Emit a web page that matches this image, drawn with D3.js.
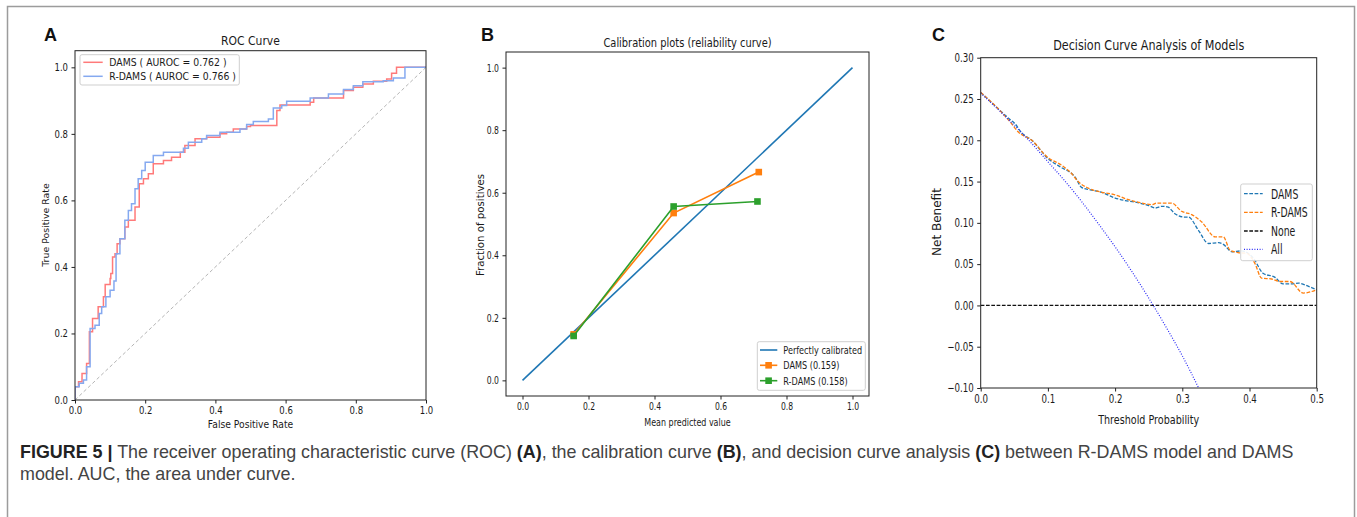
<!DOCTYPE html>
<html>
<head>
<meta charset="utf-8">
<script src="https://cdn.jsdelivr.net/npm/d3@7"></script>
<style>
  body { margin: 0; background: #fff; }
  svg text { font-family: "DejaVu Sans", sans-serif; }
</style>
</head>
<body>
<div class="figure"></div>
<script>
// ---- A: ROC curve (step points) ----
var rocDamsFpr = [0, 0, 0.01, 0.02, 0.033, 0.041, 0.041, 0.05, 0.066, 0.081, 0.086, 0.10, 0.102, 0.107, 0.114,
  0.12, 0.128, 0.142, 0.152, 0.171, 0.183, 0.195, 0.209, 0.223, 0.252, 0.275, 0.30, 0.313, 0.342, 0.375,
  0.413, 0.432, 0.451, 0.489, 0.50, 0.575, 0.584, 0.67, 0.68, 0.765, 0.793, 0.82, 0.85, 0.888, 0.902, 0.916, 1.0];
var rocDamsTpr = [0, 0.04, 0.055, 0.08, 0.11, 0.15, 0.205, 0.245, 0.28, 0.31, 0.347, 0.365, 0.38, 0.43, 0.44,
  0.47, 0.485, 0.52, 0.54, 0.58, 0.65, 0.665, 0.68, 0.71, 0.72, 0.73, 0.745, 0.765, 0.785, 0.79,
  0.80, 0.805, 0.815, 0.822, 0.825, 0.87, 0.887, 0.895, 0.908, 0.93, 0.94, 0.95, 0.958, 0.965, 0.982, 1.0, 1.0];
var rocRdamsFpr = [0, 0, 0.012, 0.024, 0.033, 0.043, 0.043, 0.057, 0.069, 0.076, 0.088, 0.10, 0.111, 0.117, 0.128,
  0.142, 0.152, 0.161, 0.171, 0.18, 0.19, 0.20, 0.223, 0.252, 0.309, 0.323, 0.361, 0.375, 0.413, 0.47,
  0.489, 0.508, 0.551, 0.565, 0.589, 0.603, 0.67, 0.722, 0.765, 0.793, 0.82, 0.878, 0.907, 0.94, 1.0];
var rocRdamsTpr = [0, 0.04, 0.05, 0.06, 0.10, 0.155, 0.215, 0.225, 0.26, 0.28, 0.31, 0.33, 0.358, 0.44, 0.485,
  0.54, 0.57, 0.59, 0.635, 0.665, 0.69, 0.715, 0.735, 0.745, 0.757, 0.775, 0.785, 0.795, 0.805, 0.815,
  0.828, 0.837, 0.845, 0.878, 0.885, 0.898, 0.908, 0.92, 0.933, 0.945, 0.957, 0.96, 0.968, 1.0, 1.0];
var rocLabels = ['DAMS ( AUROC = 0.762 )', 'R-DAMS ( AUROC = 0.766 )'];

// ---- B: calibration ----
var calDamsX = [0.155, 0.458, 0.716];
var calDamsY = [0.147, 0.535, 0.666];
var calRdamsX = [0.155, 0.458, 0.712];
var calRdamsY = [0.142, 0.556, 0.572];
var calLabels = ['Perfectly calibrated', 'DAMS (0.159)', 'R-DAMS (0.158)'];

// ---- C: decision curve ----
var dcaDamsT = [0, 0.025, 0.044, 0.05, 0.061, 0.076, 0.1, 0.12, 0.135, 0.14, 0.15, 0.163, 0.18, 0.2, 0.215,
  0.23, 0.25, 0.26, 0.27, 0.279, 0.289, 0.304, 0.309, 0.324, 0.339, 0.354, 0.361, 0.374, 0.388, 0.406,
  0.42, 0.438, 0.45, 0.463, 0.473, 0.488, 0.5];
var dcaDamsNb = [0.258, 0.239, 0.225, 0.221, 0.209, 0.200, 0.178, 0.167, 0.160, 0.156, 0.143, 0.140, 0.137, 0.130, 0.127,
  0.125, 0.121, 0.118, 0.120, 0.119, 0.111, 0.107, 0.107, 0.091, 0.075, 0.076, 0.074, 0.065, 0.066, 0.057,
  0.039, 0.034, 0.026, 0.026, 0.027, 0.023, 0.019];
var dcaRdamsT = [0, 0.025, 0.044, 0.056, 0.076, 0.1, 0.12, 0.135, 0.145, 0.16, 0.18, 0.2, 0.22, 0.24, 0.255,
  0.262, 0.284, 0.299, 0.314, 0.329, 0.349, 0.361, 0.371, 0.383, 0.396, 0.408, 0.418, 0.433, 0.445, 0.46,
  0.48, 0.5];
var dcaRdamsNb = [0.258, 0.239, 0.222, 0.210, 0.200, 0.179, 0.170, 0.160, 0.150, 0.142, 0.137, 0.134, 0.128, 0.124, 0.122,
  0.124, 0.124, 0.114, 0.110, 0.101, 0.083, 0.083, 0.067, 0.064, 0.063, 0.051, 0.033, 0.032, 0.029, 0.029,
  0.015, 0.019];
var dcaAllT = [0, 0.025, 0.05, 0.075, 0.1, 0.125, 0.15, 0.175, 0.2, 0.225, 0.25, 0.275, 0.3, 0.325];
var dcaAllNb = [0.257, 0.238, 0.218, 0.197, 0.174, 0.151, 0.126, 0.099, 0.071, 0.041, 0.009, -0.025, -0.061, -0.101];
var dcaNoneT = [0, 0.5];
var dcaNoneNb = [0, 0];
var dcaLabels = ['DAMS', 'R-DAMS', 'None', 'All'];

var unitTicks = [0, 0.2, 0.4, 0.6, 0.8, 1.0];
var dcaXTicks = [0, 0.1, 0.2, 0.3, 0.4, 0.5];
var dcaYTicks = [-0.10, -0.05, 0, 0.05, 0.10, 0.15, 0.20, 0.25, 0.30];

var width = 1357, height = 517;
var svg = d3.select('.figure').append('svg')
  .attr('width', width).attr('height', height);

// outer gray frame of the figure page
svg.append('rect')
  .attr('x', 7.5).attr('y', 6.5).attr('width', 1347).attr('height', 530)
  .attr('fill', 'none').attr('stroke', '#9c9c9c').attr('stroke-width', 1.5);

function zip(a, b) { return a.map(function(v, i) { return [v, b[i]]; }); }

// squeezed text: place at (x,y), scale horizontally by k
function label(g, x, y, txt, size, k, anchor, rot) {
  var t = g.append('text')
    .attr('transform', 'translate(' + x + ',' + y + ')' + (rot ? ' rotate(-90)' : ' scale(' + k + ',1)'))
    .attr('font-size', size)
    .attr('fill', '#1a1a1a')
    .attr('text-anchor', anchor || 'middle')
    .text(txt);
  return t;
}

function drawAxes(g, x, y, box, xt, yt, xf, yf, size, k) {
  g.append('g')
    .attr('transform', 'translate(0,' + box.b + ')')
    .call(d3.axisBottom(x).tickValues(xt).tickFormat(xf).tickSize(3.5).tickPadding(3))
    .call(function(a) {
      a.select('.domain').remove();
      a.selectAll('line').attr('stroke', '#222');
      a.selectAll('text').attr('font-size', size).attr('fill', '#1a1a1a')
        .attr('transform', 'scale(' + k + ',1)');
    });
  g.append('g')
    .attr('transform', 'translate(' + box.l + ',0)')
    .call(d3.axisLeft(y).tickValues(yt).tickFormat(yf).tickSize(3.5).tickPadding(3))
    .call(function(a) {
      a.select('.domain').remove();
      a.selectAll('line').attr('stroke', '#222');
      a.selectAll('text').attr('font-size', size).attr('fill', '#1a1a1a')
        .attr('x', -7 / k)
        .attr('transform', 'scale(' + k + ',1)');
    });
  g.append('rect')
    .attr('x', box.l).attr('y', box.t)
    .attr('width', box.r - box.l).attr('height', box.b - box.t)
    .attr('fill', 'none').attr('stroke', '#222').attr('stroke-width', 1);
}

function clipFor(id, box) {
  svg.append('defs').append('clipPath').attr('id', id)
    .append('rect').attr('x', box.l).attr('y', box.t)
    .attr('width', box.r - box.l).attr('height', box.b - box.t);
  return 'url(#' + id + ')';
}

function legendBox(g, l, t, r, b) {
  g.append('rect').attr('x', l).attr('y', t).attr('width', r - l).attr('height', b - t)
    .attr('rx', 2).attr('fill', 'white').attr('fill-opacity', 0.9)
    .attr('stroke', '#cfcfcf').attr('stroke-width', 1);
}

var f1 = d3.format('.1f'), f2 = d3.format('.2f');

// ================= Panel A =================
var boxA = {l: 75, r: 426, t: 50.7, b: 400};
var xA = d3.scaleLinear().domain([0, 1]).range([boxA.l, boxA.r]);
var yA = d3.scaleLinear().domain([0, 1.05]).range([boxA.b, boxA.t]);
var gA = svg.append('g');
var clipA = clipFor('clipA', boxA);
var stepLine = d3.line().x(function(d) { return xA(d[0]); }).y(function(d) { return yA(d[1]); })
  .curve(d3.curveStepAfter);
gA.append('path').datum([[0, 0], [1, 1]])
  .attr('d', d3.line().x(function(d) { return xA(d[0]); }).y(function(d) { return yA(d[1]); }))
  .attr('fill', 'none').attr('stroke', '#b5b5b5').attr('stroke-width', 1)
  .attr('stroke-dasharray', '3.5,2.5').attr('clip-path', clipA);
gA.append('path').datum(zip(rocDamsFpr, rocDamsTpr))
  .attr('d', stepLine).attr('fill', 'none').attr('stroke', '#ff7a7a').attr('stroke-width', 1.5)
  .attr('clip-path', clipA);
gA.append('path').datum(zip(rocRdamsFpr, rocRdamsTpr))
  .attr('d', stepLine).attr('fill', 'none').attr('stroke', '#85a9f0').attr('stroke-width', 1.5)
  .attr('clip-path', clipA);
drawAxes(gA, xA, yA, boxA, unitTicks, unitTicks, f1, f1, 10, 0.85);
label(gA, 250.5, 45, 'ROC Curve', 12, 0.9);
label(gA, 250.5, 427.5, 'False Positive Rate', 10, 0.92);
label(gA, 48.5, 225, 'True Positive Rate', 9.4, 1, 'middle', true);
legendBox(gA, 80, 54.7, 239.3, 85);
[['#ff7a7a', 62.3], ['#85a9f0', 76.3]].forEach(function(e, i) {
  gA.append('line').attr('x1', 83.3).attr('x2', 102.7).attr('y1', e[1]).attr('y2', e[1])
    .attr('stroke', e[0]).attr('stroke-width', 1.5);
  label(gA, 109.3, e[1] + 3.5, rocLabels[i], 9.7, 0.96, 'start');
});
svg.append('text').attr('x', 44).attr('y', 41).attr('font-size', 18).attr('font-weight', 'bold')
  .style('font-family', 'Liberation Sans, Arial, sans-serif').attr('fill', '#111').text('A');

// ================= Panel B =================
var boxB = {l: 506, r: 869, t: 52, b: 396};
var xB = d3.scaleLinear().domain([-0.05, 1.05]).range([boxB.l, boxB.r]);
var yB = d3.scaleLinear().domain([-0.05, 1.05]).range([boxB.b, boxB.t]);
var gB = svg.append('g');
var lineB = d3.line().x(function(d) { return xB(d[0]); }).y(function(d) { return yB(d[1]); });
gB.append('path').datum([[0, 0], [1, 1]]).attr('d', lineB)
  .attr('fill', 'none').attr('stroke', '#1f77b4').attr('stroke-width', 1.6);
[[calDamsX, calDamsY, '#ff7f0e'], [calRdamsX, calRdamsY, '#2ca02c']].forEach(function(s) {
  var pts = zip(s[0], s[1]);
  gB.append('path').datum(pts).attr('d', lineB)
    .attr('fill', 'none').attr('stroke', s[2]).attr('stroke-width', 1.6);
  gB.selectAll(null).data(pts).enter().append('rect')
    .attr('x', function(d) { return xB(d[0]) - 3.3; })
    .attr('y', function(d) { return yB(d[1]) - 3.3; })
    .attr('width', 6.6).attr('height', 6.6).attr('fill', s[2]);
});
drawAxes(gB, xB, yB, boxB, unitTicks, unitTicks, f1, f1, 10.5, 0.73);
label(gB, 687.5, 47, 'Calibration plots (reliability curve)', 13, 0.76);
label(gB, 687.5, 426, 'Mean predicted value', 10.5, 0.76);
label(gB, 483.5, 225, 'Fraction of positives', 10.2, 1, 'middle', true);
legendBox(gB, 757.3, 341.7, 865.3, 390.3);
[['#1f77b4', 350, false], ['#ff7f0e', 365.3, true], ['#2ca02c', 380.7, true]].forEach(function(e, i) {
  gB.append('line').attr('x1', 760).attr('x2', 777.3).attr('y1', e[1]).attr('y2', e[1])
    .attr('stroke', e[0]).attr('stroke-width', 1.6);
  if (e[2]) gB.append('rect').attr('x', 768.6 - 3.3).attr('y', e[1] - 3.3)
    .attr('width', 6.6).attr('height', 6.6).attr('fill', e[0]);
  label(gB, 783.3, e[1] + 4, calLabels[i], 11, 0.74, 'start');
});
svg.append('text').attr('x', 481).attr('y', 41).attr('font-size', 18).attr('font-weight', 'bold')
  .style('font-family', 'Liberation Sans, Arial, sans-serif').attr('fill', '#111').text('B');

// ================= Panel C =================
var boxC = {l: 980.7, r: 1316.7, t: 57.7, b: 388};
var xC = d3.scaleLinear().domain([0, 0.5]).range([boxC.l, boxC.r]);
var yC = d3.scaleLinear().domain([-0.1, 0.3]).range([boxC.b, boxC.t]);
var gC = svg.append('g');
var clipC = clipFor('clipC', boxC);
var lineC = d3.line().x(function(d) { return xC(d[0]); }).y(function(d) { return yC(d[1]); });
var dcaSeries = [
  [dcaDamsT, dcaDamsNb, '#1f77b4', '3.7,1.6', 1.3],
  [dcaRdamsT, dcaRdamsNb, '#ff7f0e', '3.7,1.6', 1.3],
  [dcaNoneT, dcaNoneNb, '#111', '3.7,1.6', 1.3],
  [dcaAllT, dcaAllNb, '#2b2bf5', '1,1.6', 1.2]
];
dcaSeries.forEach(function(s) {
  gC.append('path').datum(zip(s[0], s[1])).attr('d', lineC.curve(d3.curveMonotoneX))
    .attr('fill', 'none').attr('stroke', s[2]).attr('stroke-width', s[4])
    .attr('stroke-dasharray', s[3]).attr('clip-path', clipC);
});
drawAxes(gC, xC, yC, boxC, dcaXTicks, dcaYTicks, f1, f2, 12, 0.72);
label(gC, 1148.7, 50, 'Decision Curve Analysis of Models', 14, 0.8);
label(gC, 1148.7, 423.5, 'Threshold Probability', 12, 0.8);
label(gC, 940.5, 222, 'Net Benefit', 12, 1, 'middle', true);
legendBox(gC, 1240.7, 184, 1312.3, 260.7);
[193.7, 212.3, 231, 249.3].forEach(function(yy, i) {
  var s = dcaSeries[i];
  gC.append('line').attr('x1', 1244).attr('x2', 1262.7).attr('y1', yy).attr('y2', yy)
    .attr('stroke', s[2]).attr('stroke-width', s[4]).attr('stroke-dasharray', s[3]);
  label(gC, 1271, yy + 4.8, dcaLabels[i], 13.3, 0.7, 'start');
});
svg.append('text').attr('x', 932).attr('y', 41).attr('font-size', 18).attr('font-weight', 'bold')
  .style('font-family', 'Liberation Sans, Arial, sans-serif').attr('fill', '#111').text('C');

// ================= Caption =================
var cap = svg.append('g');
var line1 = cap.append('text').attr('x', 20).attr('y', 457.5).attr('font-size', 17.9).attr('fill', '#3d3d3d')
  .style('font-family', 'Liberation Sans, Arial, sans-serif');
[['FIGURE 5 |', true], [' The receiver operating characteristic curve (ROC) ', false], ['(A)', true],
 [', the calibration curve ', false], ['(B)', true], [', and decision curve analysis ', false], ['(C)', true],
 [' between R-DAMS model and DAMS', false]].forEach(function(p) {
  line1.append('tspan').attr('font-weight', p[1] ? 'bold' : 'normal')
    .attr('fill', p[1] ? '#222' : '#444').text(p[0]);
});
cap.append('text').attr('x', 20).attr('y', 479.5).attr('font-size', 17.9).attr('fill', '#444')
  .style('font-family', 'Liberation Sans, Arial, sans-serif')
  .text('model. AUC, the area under curve.');
</script>
</body>
</html>
